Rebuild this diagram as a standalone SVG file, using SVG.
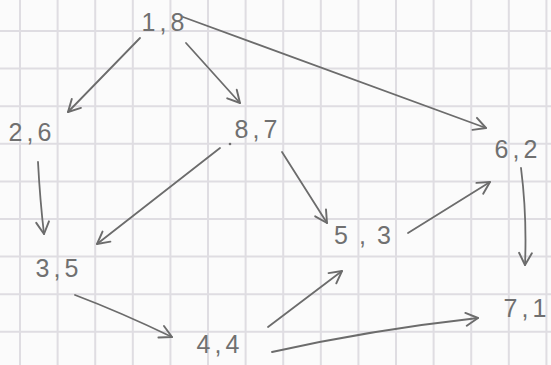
<svg xmlns="http://www.w3.org/2000/svg" width="551" height="365" viewBox="0 0 551 365">
<defs>
<style>
.grid{stroke:#dfdde2;stroke-width:2;fill:none}
.edge{stroke:#6c6c6c;stroke-width:1.8;fill:none;stroke-linecap:round;marker-end:url(#arrow)}
.lbl{font-family:"Liberation Sans",Arial,sans-serif;font-size:25px;fill:#707070;text-anchor:middle;letter-spacing:4px}
</style>
<marker id="arrow" viewBox="0 0 10 10" refX="9" refY="5" markerWidth="16" markerHeight="16" markerUnits="userSpaceOnUse" orient="auto">
<path d="M1.5,1 L9,5 L1.5,9" fill="none" stroke="#6c6c6c" stroke-width="1.2" stroke-linecap="round" stroke-linejoin="round"/>
</marker>
</defs>
<rect width="551" height="365" fill="#fbfbfb"/>
<path class="grid" d="M20,0V365 M57.6,0V365 M95.2,0V365 M132.8,0V365 M170.4,0V365 M208,0V365 M245.6,0V365 M283.2,0V365 M320.8,0V365 M358.4,0V365 M396,0V365 M433.6,0V365 M471.2,0V365 M508.8,0V365 M546.4,0V365 M0,31H551 M0,68.6H551 M0,106.2H551 M0,143.8H551 M0,181.4H551 M0,219H551 M0,256.6H551 M0,294.2H551 M0,331.8H551"/>
<g id="connectors">
<path class="edge" d="M140,38 L68,112"/>
<path class="edge" d="M186,43 L240,103"/>
<path class="edge" d="M183,17 L486,128"/>
<path class="edge" d="M38,162 Q40,200 44,234"/>
<path class="edge" d="M220,148 L97,244"/>
<path class="edge" d="M282,152 L327,223"/>
<path class="edge" d="M408,233 L490,182"/>
<path class="edge" d="M521,168 Q527,215 525,265"/>
<path class="edge" d="M75,295 Q120,312 172,337"/>
<path class="edge" d="M268,327 L342,271"/>
<path class="edge" d="M272,352 Q370,330 478,318"/>
</g>
<g id="n18"><text class="lbl" x="165" y="31">1,8</text></g>
<g id="n26"><text class="lbl" x="32" y="141">2,6</text></g>
<g id="n87"><circle cx="230" cy="144" r="1.3" fill="#707070"/><text class="lbl" x="258" y="138">8,7</text></g>
<g id="n62"><text class="lbl" x="518" y="158">6,2</text></g>
<g id="n35"><text class="lbl" x="59" y="277">3,5</text></g>
<g id="n53"><text class="lbl" x="368" y="244" style="letter-spacing:11px">5,3</text></g>
<g id="n44"><text class="lbl" x="220" y="353">4,4</text></g>
<g id="n71"><text class="lbl" x="527" y="317">7,1</text></g>
</svg>
